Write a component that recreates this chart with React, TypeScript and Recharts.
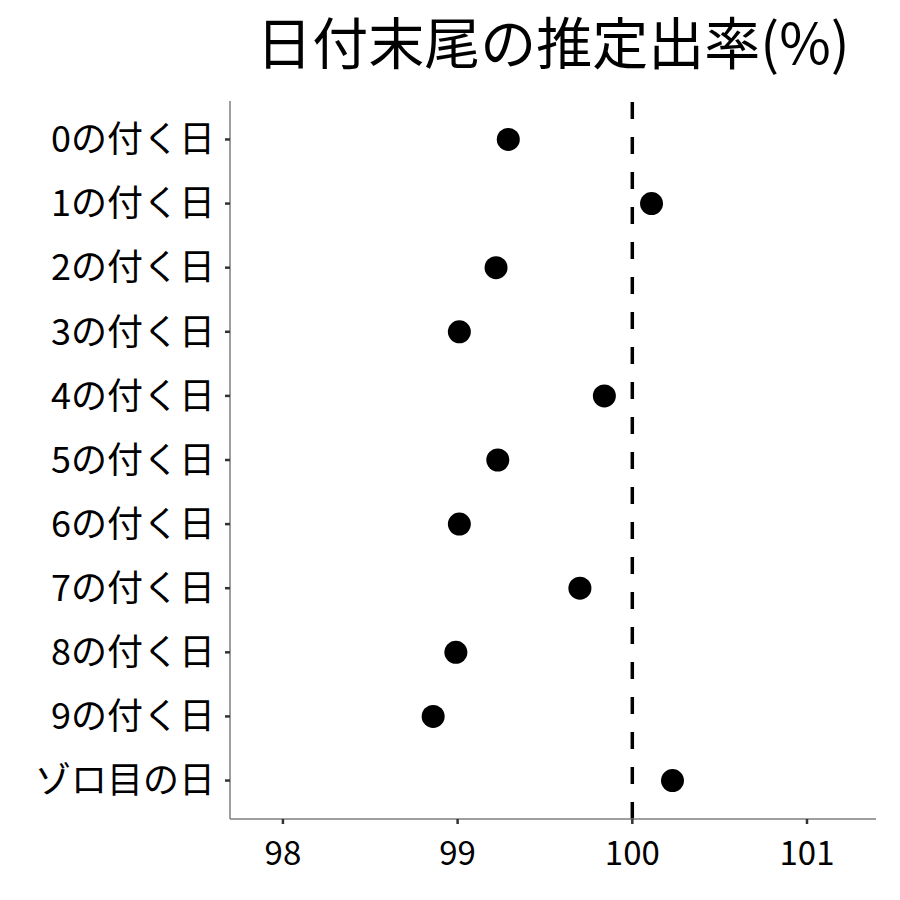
import { ReferenceLine, Scatter, ScatterChart, XAxis, YAxis, Customized } from "recharts";

const labels = [
  "0の付く日",
  "1の付く日",
  "2の付く日",
  "3の付く日",
  "4の付く日",
  "5の付く日",
  "6の付く日",
  "7の付く日",
  "8の付く日",
  "9の付く日",
  "ゾロ目の日",
];
const rates = [99.29, 100.11, 99.22, 99.01, 99.84, 99.23, 99.01, 99.7, 98.99, 98.86, 100.23];
const xTicks = [98, 99, 100, 101];

const data = labels.map((label, i) => ({ label, idx: i, rate: rates[i] }));
const font = "'Noto Sans CJK JP', 'Noto Sans', sans-serif";

export default function App() {
  return (
    <div style={{ position: "absolute", left: 0, top: 0, width: 900, height: 900, background: "#fff" }}>
      <ScatterChart width={900} height={900} margin={{ top: 101, right: 24, bottom: 0, left: 0 }}>
        <XAxis
          type="number"
          dataKey="rate"
          domain={[97.697, 101.395]}
          ticks={xTicks}
          allowDataOverflow
          stroke="#7f7f7f"
          strokeWidth={1.5}
          tickSize={5}
          tickMargin={18}
          tickLine={{ stroke: "#333", strokeWidth: 2.5 }}
          tick={{ fill: "#000", fontSize: 33, fontFamily: font }}
          height={81}
        />
        <YAxis
          type="number"
          dataKey="idx"
          domain={[-0.6, 10.6]}
          reversed
          ticks={labels.map((_, i) => i)}
          tickFormatter={(v: number) => labels[v]}
          interval={0}
          allowDataOverflow
          width={230}
          stroke="#7f7f7f"
          strokeWidth={1.5}
          tickSize={5}
          tickMargin={10}
          tickLine={{ stroke: "#333", strokeWidth: 2.5 }}
          tick={{ fill: "#000", fontSize: 36, fontFamily: font }}
        />
        <ReferenceLine x={100} stroke="#000" strokeWidth={3.5} strokeDasharray="17 18" />
        <Scatter data={data} fill="#000" isAnimationActive={false} shape={(p: any) => <circle cx={p.cx} cy={p.cy} r={11.5} fill="#000" />} />
        <Customized
          component={() => (
            <text x={553} y={64} textAnchor="middle" fontSize={56} fontFamily={font} fill="#000">
              日付末尾の推定出率(%)
            </text>
          )}
        />
      </ScatterChart>
    </div>
  );
}
